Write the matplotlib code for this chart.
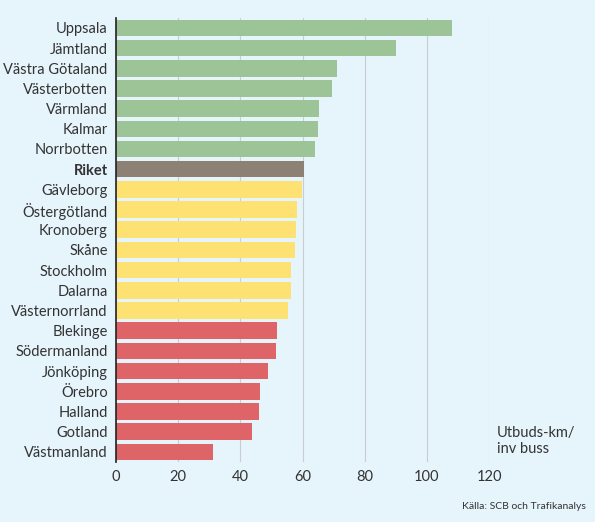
import matplotlib.pyplot as plt

plt.rcParams['font.family'] = ['Lato', 'DejaVu Sans']

regions = ['Uppsala', 'Jämtland', 'Västra Götaland', 'Västerbotten', 'Värmland', 'Kalmar',
           'Norrbotten', 'Riket', 'Gävleborg', 'Östergötland', 'Kronoberg', 'Skåne',
           'Stockholm', 'Dalarna', 'Västernorrland', 'Blekinge', 'Södermanland',
           'Jönköping', 'Örebro', 'Halland', 'Gotland', 'Västmanland']
values = [108.1, 90.1, 71.1, 69.5, 65.3, 65.0, 64.0, 60.5, 59.8, 58.2, 57.9, 57.6,
          56.3, 56.3, 55.3, 51.8, 51.5, 48.9, 46.3, 46.0, 43.8, 31.2]
groups = ['high'] * 7 + ['riket'] + ['mid'] * 7 + ['low'] * 7
colours = {'high': '#9dc497', 'riket': '#8c8174', 'mid': '#fde173', 'low': '#de6467'}

bg = '#e6f4fc'
fig = plt.figure(figsize=(5.95, 5.22), dpi=100, facecolor=bg)
ax = fig.add_axes([0.195, 0.115, 0.627, 0.851], facecolor=bg)

y = list(range(len(regions)))
ax.barh(y, values, height=0.82, color=[colours[g] for g in groups], zorder=2)
ax.set_ylim(len(regions) - 0.5, -0.5)
ax.set_xlim(0, 120)
ax.set_xticks(range(0, 121, 20))
ax.set_yticks(y)
ax.set_yticklabels(regions, fontsize=10.5, color='#222222')
for lab, g in zip(ax.get_yticklabels(), groups):
    if g == 'riket':
        lab.set_fontweight('bold')
ax.tick_params(axis='both', length=0, labelsize=10.5, colors='#333333')
ax.tick_params(axis='y', pad=6)
ax.tick_params(axis='x', pad=6)
ax.grid(axis='x', color='#c8cdd0', linewidth=0.8, zorder=1)
for s in ['top', 'right', 'bottom']:
    ax.spines[s].set_visible(False)
ax.spines['left'].set_color('#222222')
ax.spines['left'].set_linewidth(1.2)

fig.text(0.835, 0.155, 'Utbuds-km/\ninv buss', fontsize=10.5, color='#333333', va='center', ha='left')
fig.text(0.985, 0.025, 'Källa: SCB och Trafikanalys', fontsize=7.5, color='#333333', ha='right')

fig.savefig('out.png', dpi=100, facecolor=bg)
